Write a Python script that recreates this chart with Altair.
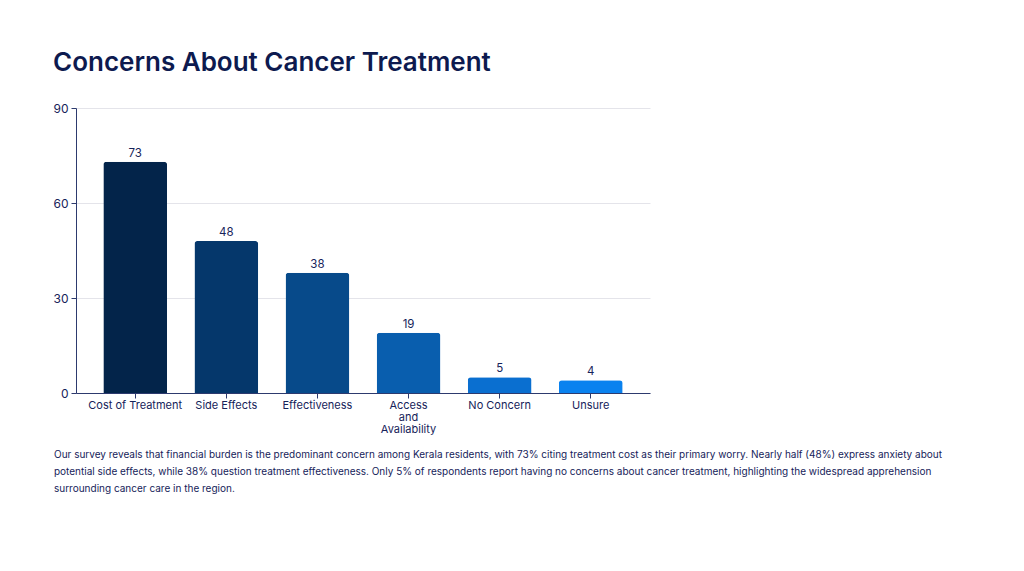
import altair as alt
import pandas as pd

categories = ["Cost of Treatment", "Side Effects", "Effectiveness",
              "Access and Availability", "No Concern", "Unsure"]
values = [73, 48, 38, 19, 5, 4]
bar_colors = ["#03244a", "#05376b", "#074a8a", "#095eae", "#0a6fd0", "#0a82ef"]
y_ticks = [0, 30, 60, 90]
caption_lines = [
    "Our survey reveals that financial burden is the predominant concern among Kerala residents, with 73% citing treatment cost as their primary worry. Nearly half (48%) express anxiety about",
    "potential side effects, while 38% question treatment effectiveness. Only 5% of respondents report having no concerns about cancer treatment, highlighting the widespread apprehension",
    "surrounding cancer care in the region.",
]

NAVY = "#16235a"
FONT = "Inter"

df = pd.DataFrame({"category": categories, "value": values})

x_enc = alt.X(
    "category:N",
    sort=categories,
    scale=alt.Scale(paddingInner=0.3, paddingOuter=0.3),
    axis=alt.Axis(
        title=None, labelAngle=0, labelFont=FONT, labelFontSize=11,
        labelColor=NAVY, domainColor="#2d3a6e", tickColor="#2d3a6e",
        tickSize=5, labelPadding=1, labelLineHeight=12,
        labelExpr="datum.label == 'Access and Availability' ? ['Access','and','Availability'] : datum.label",
    ),
)
y_enc = alt.Y(
    "value:Q",
    scale=alt.Scale(domain=[0, 90]),
    axis=alt.Axis(
        title=None, values=y_ticks, labelFont=FONT, labelFontSize=12,
        labelColor=NAVY, domainColor="#2d3a6e", tickColor="#2d3a6e",
        tickSize=5, gridColor="#e4e4ea", labelPadding=3,
    ),
)

bars = alt.Chart(df).mark_bar(cornerRadiusTopLeft=3, cornerRadiusTopRight=3).encode(
    x=x_enc,
    y=y_enc,
    color=alt.Color("category:N", sort=categories,
                    scale=alt.Scale(domain=categories, range=bar_colors), legend=None),
)

labels = alt.Chart(df).mark_text(
    dy=-8, font=FONT, fontSize=11.5, color=NAVY
).encode(x=alt.X("category:N", sort=categories), y="value:Q", text="value:Q")

caption = alt.Chart(pd.DataFrame({"t": [caption_lines]})).mark_text(
    align="left", baseline="top", font=FONT, fontSize=10, color=NAVY, lineHeight=17
).encode(x=alt.value(-22), y=alt.value(342), text="t")

final = alt.layer(bars, labels, caption).properties(
    width=574, height=285,
    title=alt.TitleParams(
        "Concerns About Cancer Treatment", anchor="start", font=FONT,
        fontSize=26, fontWeight=600, color="#0d1a4f", offset=26,
    ),
    padding={"left": 44, "top": 42, "right": 5, "bottom": 5},
).configure_view(stroke=None).configure_axisX(grid=False)

final.save("out.html", embed_options={"renderer": "svg", "actions": False})
